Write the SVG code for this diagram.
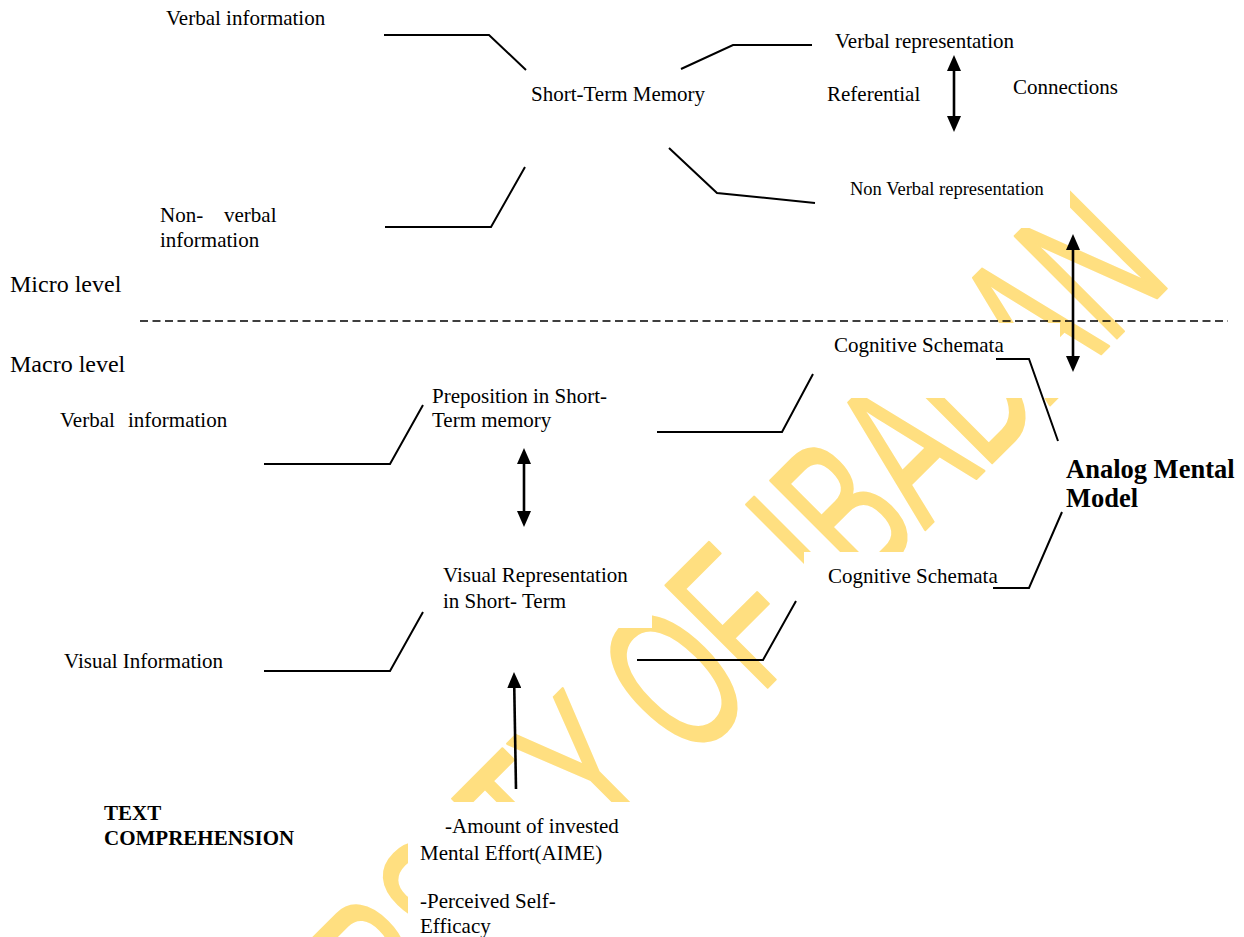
<svg xmlns="http://www.w3.org/2000/svg" width="1244" height="937" viewBox="0 0 1244 937">
<defs>
<style>
.t{font-family:"Liberation Serif","Times New Roman",serif;font-size:21px;fill:#000}
.big{font-size:24px}
.sm{font-size:18.5px}
.b{font-weight:bold}
.box{fill:#fff;stroke:none}
.ln{fill:none;stroke:#000;stroke-width:2}
.ar{fill:none;stroke:#000;stroke-width:2.6}
.wm{font-family:"Liberation Sans",Arial,sans-serif;font-size:127px;fill:#FFDF80;stroke:#FFDF80;stroke-width:1.5;stroke-linejoin:round}
</style>
<marker id="ah" viewBox="0 0 16 14" refX="10" refY="7" markerWidth="16" markerHeight="14" markerUnits="userSpaceOnUse" orient="auto-start-reverse">
<path d="M0,0 L16,7 L0,14 z" fill="#000"/>
</marker>
</defs>
<rect width="1244" height="937" fill="#fff"/>
<g id="watermark">
<text class="wm" transform="translate(128,1327) rotate(-45) scale(1,1.65)">UNIVERSITY OF IBADAN</text>
</g>
<g id="n-verbal-info-top"><text class="t" x="166" y="25">Verbal information</text></g>
<g id="n-stm"><text class="t" x="531" y="101">Short-Term Memory</text></g>
<g id="n-nonverbal-info"><text class="t" y="222"><tspan x="160">Non-</tspan><tspan x="224">verbal</tspan></text><text class="t" x="160" y="247">information</text></g>
<g id="n-connections"><rect class="box" x="1000" y="60" width="150" height="117"/><text class="t" x="1013" y="94">Connections</text></g>
<g id="n-verbal-rep"><text class="t" x="835" y="48">Verbal representation</text></g>
<g id="n-referential"><text class="t" x="827" y="101">Referential</text></g>
<g id="n-nonverbal-rep"><rect class="box" x="815" y="170" width="255" height="58"/><text class="t sm" x="850" y="195">Non Verbal representation</text></g>
<g id="n-micro"><text class="t big" x="10" y="292">Micro level</text></g>
<g id="n-macro"><text class="t big" x="10" y="372">Macro level</text></g>
<g id="n-verbal-info-macro"><text class="t" y="427"><tspan x="60">Verbal</tspan><tspan x="128">information</tspan></text></g>
<g id="n-preposition"><text class="t" x="432" y="403">Preposition in Short-</text><text class="t" x="432" y="427">Term memory</text></g>
<g id="n-cog1"><rect class="box" x="815" y="323" width="245" height="75"/><text class="t" x="834" y="352">Cognitive Schemata</text></g>
<g id="n-analog"><text class="t b" style="font-size:26.5px" x="1066" y="478">Analog Mental</text><text class="t b" style="font-size:26.5px" x="1066" y="507">Model</text></g>
<g id="n-cog2"><rect class="box" x="804" y="552" width="212" height="72"/><text class="t" x="828" y="583">Cognitive Schemata</text></g>
<g id="n-visrep"><rect class="box" x="430" y="560" width="222" height="68"/><text class="t" x="443" y="582">Visual Representation</text><text class="t" x="443" y="608">in Short- Term</text></g>
<g id="n-visinfo"><text class="t" x="64" y="668">Visual Information</text></g>
<g id="n-textcomp"><text class="t b" x="104" y="820">TEXT</text><text class="t b" x="104" y="845">COMPREHENSION</text></g>
<g id="n-aime"><rect class="box" x="408" y="802" width="300" height="135"/><text class="t" x="445" y="833">-Amount of invested</text><text class="t" x="420" y="860">Mental Effort(AIME)</text></g>
<g id="n-pse"><text class="t" x="420" y="908">-Perceived Self-</text><text class="t" x="420" y="933">Efficacy</text></g>
<g id="connectors">
<polyline class="ln" points="384,35 489,35 526,70"/>
<polyline class="ln" points="385,227 491,227 525,167"/>
<polyline class="ln" points="681,69 733,45 812,45"/>
<polyline class="ln" points="669,148 717,193 815,203"/>
<line class="ar" x1="954" y1="61" x2="954" y2="126" marker-start="url(#ah)" marker-end="url(#ah)"/>
<line class="ar" x1="1073" y1="240" x2="1073" y2="366" marker-start="url(#ah)" marker-end="url(#ah)"/>
<line x1="140" y1="321" x2="1228" y2="321" stroke="#000" stroke-width="1.5" stroke-dasharray="8 4.5"/>
<polyline class="ln" points="264,464 390,464 423,405"/>
<line class="ar" x1="524" y1="454" x2="524" y2="521" marker-start="url(#ah)" marker-end="url(#ah)"/>
<polyline class="ln" points="657,432 782,432 813,374"/>
<polyline class="ln" points="996,359 1029,359 1058,441"/>
<polyline class="ln" points="1062,512 1029,588 993,588"/>
<polyline class="ln" points="264,671 390,671 423,612"/>
<polyline class="ln" points="637,660 763,660 796,601"/>
<line class="ar" x1="516" y1="789" x2="514.1" y2="678" marker-end="url(#ah)"/>
</g>
</svg>
